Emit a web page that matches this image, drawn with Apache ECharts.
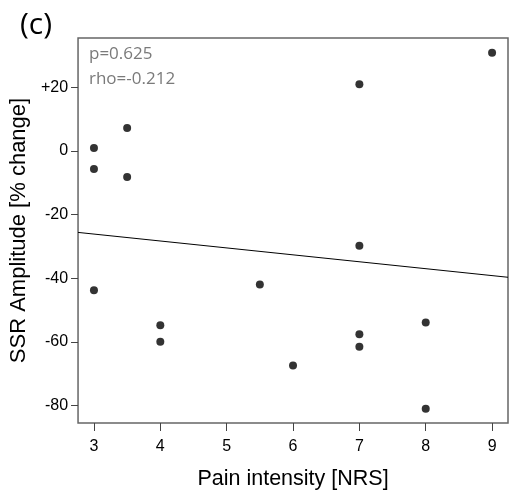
<!DOCTYPE html>
<html>
<head>
<meta charset="utf-8">
<script src="https://cdn.jsdelivr.net/npm/echarts@6/dist/echarts.min.js"></script>
<style>html,body{margin:0;padding:0;background:#fff}#c{width:510px;height:502px}</style>
</head>
<body>
<div id="c"></div>
<script>
// Data
var painNRS = [3, 3, 3, 3.5, 3.5, 4, 4, 5.5, 6, 7, 7, 7, 7, 8, 8, 9];
var ssrChange = [0.9, -5.7, -43.8, 7.2, -8.2, -54.8, -60.0, -42.0, -67.4, 21.0, -29.8, -57.6, -61.5, -53.9, -81.0, 30.9];
var fitX = [2.76, 9.24];
var fitY = [-25.6, -39.7];
var xTicks = [3, 4, 5, 6, 7, 8, 9];
var yTicks = [-80, -60, -40, -20, 0, 20];
var xRange = [2.76, 9.24];
var yRange = [-85.5, 35.5];
var panelLabel = '(c)';
var statsText = ['p=0.625', 'rho=-0.212'];

var pts = painNRS.map(function (x, i) { return [x, ssrChange[i]]; });
var fit = fitX.map(function (x, i) { return [x, fitY[i]]; });

var chart = echarts.init(document.getElementById('c'), null, { renderer: 'canvas' });
var sans = 'Liberation Sans, Arial, sans-serif';
chart.setOption({
  animation: false,
  backgroundColor: '#fff',
  title: [
    { text: panelLabel, left: 15, top: 5, textStyle: { fontFamily: 'Open Sans', fontSize: 30, fontWeight: 'normal', color: '#000' } },
    { text: statsText.join('\n'), left: 84, top: 37, textStyle: { fontFamily: 'Open Sans', fontSize: 17, fontWeight: 'normal', color: '#7a7a7a', lineHeight: 24.5 } }
  ],
  grid: { left: 78, right: 2, top: 38, bottom: 79, show: true, borderColor: '#666', borderWidth: 1.5, backgroundColor: 'transparent' },
  xAxis: {
    type: 'value', min: xRange[0], max: xRange[1],
    name: 'Pain intensity [NRS]', nameLocation: 'middle', nameGap: 45,
    nameTextStyle: { fontFamily: sans, fontSize: 21.5, color: '#000' },
    axisLine: { show: false, onZero: false },
    splitLine: { show: false },
    axisTick: { show: true, length: 8, customValues: xTicks, lineStyle: { color: '#444', width: 1 } },
    axisLabel: { customValues: xTicks, margin: 16, fontFamily: sans, fontSize: 16, color: '#000' }
  },
  yAxis: {
    type: 'value', min: yRange[0], max: yRange[1],
    name: 'SSR Amplitude [% change]', nameLocation: 'middle', nameGap: 45,
    nameTextStyle: { fontFamily: sans, fontSize: 22, color: '#000' },
    axisLine: { show: false, onZero: false },
    splitLine: { show: false },
    axisTick: { show: true, length: 7, customValues: yTicks, lineStyle: { color: '#444', width: 1 } },
    axisLabel: { customValues: yTicks, margin: 10, fontFamily: sans, fontSize: 16, color: '#000',
      formatter: function (v) { return v > 0 ? '+' + v : String(v); } }
  },
  series: [
    { type: 'line', data: fit, symbol: 'none', lineStyle: { color: '#000', width: 1 }, silent: true, z: 1 },
    { type: 'scatter', data: pts, symbol: 'circle', symbolSize: 8, itemStyle: { color: '#000' }, z: 2 }
  ]
});
</script>
</body>
</html>
